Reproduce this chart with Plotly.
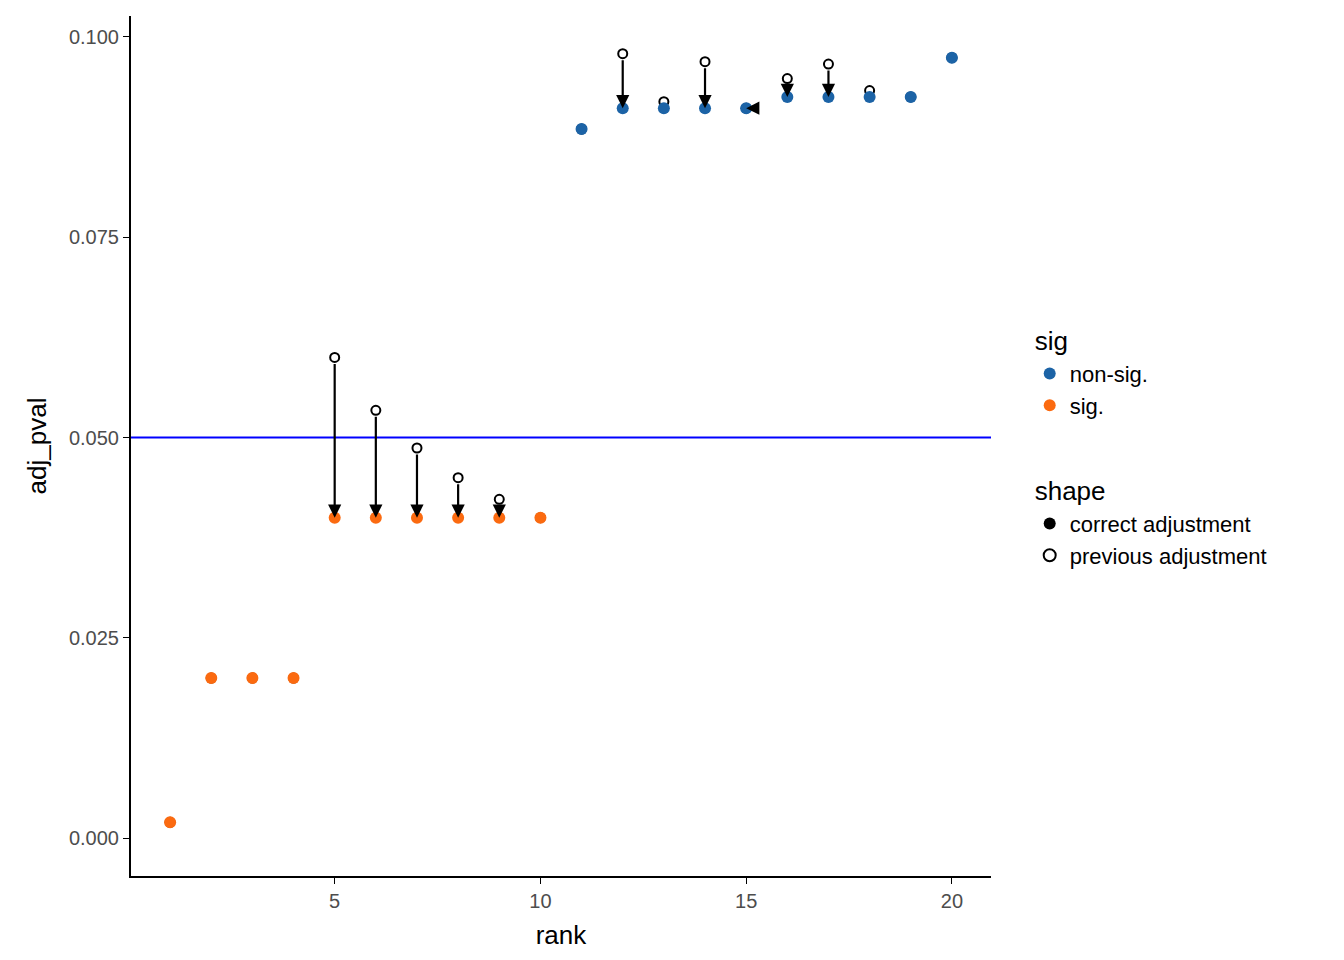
import plotly.graph_objects as go

rank = list(range(1, 21))
correct = [0.002, 0.020, 0.020, 0.020, 0.040, 0.040, 0.040, 0.040, 0.040, 0.040,
           0.0885, 0.0911, 0.0911, 0.0911, 0.0911, 0.0925, 0.0925, 0.0925, 0.0925, 0.0974]
previous = [0.002, 0.020, 0.020, 0.020, 0.060, 0.0534, 0.0487, 0.0450, 0.0423, 0.040,
            0.0885, 0.0979, 0.0919, 0.0969, 0.0911, 0.0948, 0.0966, 0.0933, 0.0925, 0.0974]
sig = ['sig.' if r <= 10 else 'non-sig.' for r in rank]
colors = {'non-sig.': '#1c63a6', 'sig.': '#fb6a10'}

fig = go.Figure()

# previous adjustment, open circles
fig.add_trace(go.Scatter(x=rank, y=previous, mode='markers', showlegend=False,
                         marker=dict(symbol='circle-open', size=9, color='black', line=dict(width=2))))

for s in ['non-sig.', 'sig.']:
    xs = [r for r, g in zip(rank, sig) if g == s]
    ys = [c for c, g in zip(correct, sig) if g == s]
    fig.add_trace(go.Scatter(x=xs, y=ys, mode='markers', name=s, legendgroup='sig',
                             legendgrouptitle=dict(text='sig', font=dict(size=26, color='black')),
                             marker=dict(size=12, color=colors[s])))

fig.add_trace(go.Scatter(x=[None], y=[None], mode='markers', name='correct adjustment',
                         legendgroup='shape',
                         legendgrouptitle=dict(text='shape', font=dict(size=26, color='black')),
                         marker=dict(size=10, color='black')))
fig.add_trace(go.Scatter(x=[None], y=[None], mode='markers', name='previous adjustment',
                         legendgroup='shape', marker=dict(symbol='circle-open', size=9, color='black',
                                                          line=dict(width=2))))

for r, c, p in zip(rank, correct, previous):
    if r == 15:
        fig.add_annotation(x=r, y=c, ax=r + 0.2, ay=c, xref='x', yref='y', axref='x', ayref='y',
                           text='', showarrow=True, arrowhead=2, arrowwidth=2.2, arrowsize=1.2,
                           arrowcolor='black')
    elif abs(p - c) > 1e-9:
        fig.add_annotation(x=r, y=c, ax=r, ay=p, xref='x', yref='y', axref='x', ayref='y',
                           text='', showarrow=True, arrowhead=2, arrowwidth=2.2, arrowsize=1.2,
                           arrowcolor='black', standoff=0, startstandoff=5)

fig.add_hline(y=0.05, line=dict(color='blue', width=2))

fig.update_layout(
    width=1344, height=960, plot_bgcolor='white', paper_bgcolor='white',
    margin=dict(l=123, r=361, t=8, b=92),
    font=dict(family='Liberation Sans, Arial', size=20, color='#4d4d4d'),
    legend=dict(x=1.045, y=0.5, yanchor='middle', tracegroupgap=50, itemsizing='constant',
                font=dict(size=22, color='black')),
    xaxis=dict(title=dict(text='rank', font=dict(size=26, color='black')), range=[0.05, 20.95],
               tickvals=[5, 10, 15, 20], showline=True, linecolor='black', linewidth=2,
               ticks='outside', ticklen=6, tickcolor='black', showgrid=False, zeroline=False),
    yaxis=dict(title=dict(text='adj_pval', font=dict(size=26, color='black')), range=[-0.0047, 0.1026],
               tickvals=[0, 0.025, 0.05, 0.075, 0.1], tickformat='.3f',
               showline=True, linecolor='black', linewidth=2,
               ticks='outside', ticklen=6, tickcolor='black', showgrid=False, zeroline=False),
)

fig.write_html("out.html")
